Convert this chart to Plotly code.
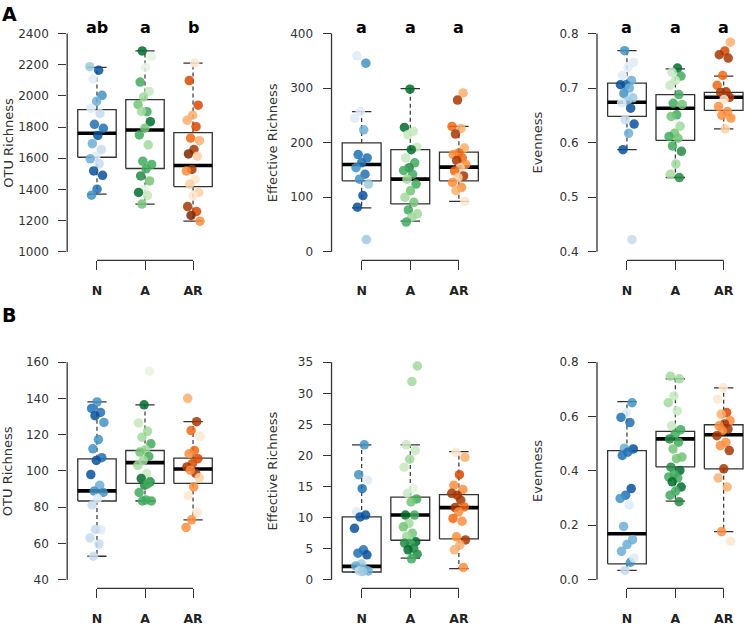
import plotly.graph_objects as go

# ---------------- data ----------------
groups = ["N", "A", "AR"]
y_titles = ["OTU Richness", "Effective Richness", "Evenness"]

# box stats per panel: [q1, median, q3, lower whisker, upper whisker] for N, A, AR
a1_stats = [[1606, 1760, 1912, 1370, 2183], [1534, 1781, 1976, 1306, 2288], [1418, 1553, 1764, 1196, 2210]]
a2_stats = [[130, 160, 199.4, 80.3, 256.8], [87.6, 133, 187, 56, 299], [130, 155, 182.5, 92.4, 229.6]]
a3_stats = [[0.648, 0.674, 0.709, 0.587, 0.7685], [0.604, 0.663, 0.688, 0.536, 0.735], [0.659, 0.683, 0.692, 0.625, 0.722]]
b1_stats = [[83.4, 89, 106.7, 52.9, 138.1], [93.1, 104.6, 111.3, 83.4, 136.5], [93.1, 101.1, 107.1, 73, 127.2]]
b2_stats = [[1.23, 2.13, 10.1, 1.2, 21.7], [6.34, 10.4, 13.3, 3.47, 21.7], [6.55, 11.6, 13.7, 1.76, 20.6]]
b3_stats = [[0.058, 0.169, 0.475, 0.034, 0.655], [0.415, 0.518, 0.546, 0.289, 0.739], [0.408, 0.5335, 0.570, 0.177, 0.706]]

# sample values per group, with a shade level (sample gradient index 0-8)
a1_N = [2187, 2164, 2109, 2003, 1965, 1919, 1887, 1817, 1792, 1746, 1693, 1655, 1613, 1596, 1564, 1518, 1490, 1401, 1363]
a1_N_s = [3, 7, 1, 5, 4, 1, 2, 6, 6, 7, 4, 2, 1, 4, 2, 7, 7, 6, 5]
a1_A = [2288, 2252, 2183, 2088, 2028, 1993, 1944, 1898, 1900, 1834, 1792, 1749, 1686, 1581, 1560, 1532, 1486, 1454, 1401, 1380, 1360, 1306]
a1_A_s = [7, 1, 1, 5, 2, 3, 4, 5, 3, 7, 4, 5, 3, 5, 5, 5, 6, 4, 1, 7, 2, 4]
a1_AR = [2210, 2098, 1940, 1876, 1844, 1802, 1729, 1712, 1655, 1627, 1613, 1528, 1518, 1464, 1433, 1380, 1359, 1290, 1258, 1233, 1196]
a1_AR_s = [1, 6, 6, 3, 3, 6, 5, 3, 7, 8, 2, 7, 4, 1, 2, 2, 1, 7, 6, 8, 4]

a2_N = [359, 345.6, 257, 244.7, 223.5, 178, 172, 163, 154, 142, 133, 124, 103, 81.6, 22.3]
a2_N_s = [1, 5, 1, 1, 4, 6, 6, 6, 5, 6, 5, 3, 7, 7, 3]
a2_A = [297.9, 227.8, 220.6, 214.5, 191.6, 187, 172, 163, 154, 149, 142, 133, 124, 111.7, 99.7, 90.6, 76.7, 69.4, 63.4, 54.4]
a2_A_s = [7, 7, 2, 2, 2, 7, 2, 5, 6, 5, 5, 3, 5, 4, 3, 4, 5, 3, 3, 5]
a2_AR = [291, 278, 229.6, 226, 215.7, 190, 181, 178, 172, 167, 160, 154, 148, 139, 136, 127, 118, 112, 92.4]
a2_AR_s = [3, 7, 5, 3, 7, 3, 5, 4, 5, 7, 4, 2, 5, 7, 2, 4, 4, 3, 1]

a3_N = [0.7685, 0.747, 0.738, 0.723, 0.714, 0.706, 0.706, 0.700, 0.690, 0.682, 0.676, 0.673, 0.663, 0.642, 0.634, 0.617, 0.587, 0.422]
a3_N_s = [5, 1, 1, 1, 4, 6, 7, 4, 5, 3, 3, 1, 7, 2, 7, 4, 7, 2]
a3_A = [0.7366, 0.729, 0.722, 0.714, 0.705, 0.688, 0.672, 0.670, 0.651, 0.648, 0.630, 0.617, 0.611, 0.608, 0.594, 0.584, 0.561, 0.542, 0.536]
a3_A_s = [7, 2, 5, 2, 2, 5, 5, 4, 5, 4, 3, 4, 5, 4, 5, 6, 3, 3, 6]
a3_AR = [0.784, 0.768, 0.761, 0.755, 0.723, 0.705, 0.693, 0.692, 0.683, 0.679, 0.666, 0.657, 0.650, 0.645, 0.625]
a3_AR_s = [3, 6, 7, 7, 5, 5, 7, 7, 7, 1, 4, 4, 4, 4, 2]

b1_N = [138.1, 134.5, 132.3, 130.5, 126.8, 117.3, 112.2, 107.3, 105.8, 98, 92.1, 88.9, 88.1, 84.8, 81.2, 67.5, 67.7, 63, 59.7, 52.9]
b1_N_s = [5, 6, 6, 7, 5, 5, 5, 6, 7, 7, 4, 5, 5, 1, 2, 1, 2, 2, 2, 2]
b1_A = [155.1, 136.5, 126.5, 121.9, 118.6, 115, 111.8, 110.4, 108, 105.8, 103.1, 98.6, 95.8, 94, 92.1, 88.1, 93, 83.4, 83.4, 84]
b1_A_s = [1, 7, 2, 3, 3, 5, 3, 4, 5, 3, 3, 2, 7, 6, 6, 5, 5, 5, 5, 5]
b1_AR = [140.1, 127.2, 122.3, 119.1, 111.3, 109.5, 106.8, 104, 102.2, 98.6, 100.4, 96.2, 91.2, 86.3, 77, 73, 68.8]
b1_AR_s = [3, 7, 5, 1, 5, 4, 6, 6, 7, 7, 4, 2, 4, 1, 1, 4, 4]

b2_N = [21.7, 16.9, 16, 14.65, 10.9, 10.4, 10.1, 8.26, 4.8, 4.26, 4, 2.5, 2.2, 1.6, 1.4, 1.4, 1.3]
b2_N_s = [5, 5, 1, 6, 1, 7, 7, 7, 6, 6, 7, 3, 4, 4, 2, 4, 3]
b2_A = [34.4, 31.9, 21.7, 20.8, 19.4, 18.1, 14.75, 13.9, 13, 12.5, 10.4, 10.4, 9.06, 8.5, 7.46, 7, 6.1, 5.86, 5.86, 5.06, 4.8, 4.1, 3.35]
b2_A_s = [3, 3, 2, 2, 3, 2, 1, 2, 5, 4, 7, 5, 3, 4, 4, 3, 7, 5, 6, 6, 7, 6, 5]
b2_AR = [20.5, 19.7, 16.9, 15.2, 14.5, 13.6, 13.9, 12.8, 11.6, 11.7, 10.9, 9.86, 9.4, 6.9, 6.4, 5.6, 4.8, 1.97]
b2_AR_s = [1, 3, 6, 4, 4, 7, 7, 7, 7, 5, 4, 5, 4, 4, 7, 3, 3, 4]

b3_N = [0.651, 0.615, 0.597, 0.578, 0.484, 0.481, 0.469, 0.457, 0.335, 0.311, 0.299, 0.275, 0.196, 0.147, 0.129, 0.104, 0.064, 0.034, 0.08]
b3_N_s = [5, 1, 6, 6, 4, 7, 6, 6, 7, 6, 5, 1, 4, 4, 4, 4, 5, 2, 1]
b3_A = [0.749, 0.739, 0.676, 0.651, 0.621, 0.566, 0.552, 0.536, 0.518, 0.506, 0.481, 0.451, 0.445, 0.414, 0.402, 0.387, 0.378, 0.374, 0.36, 0.341, 0.326, 0.311, 0.287]
b3_A_s = [3, 3, 2, 3, 2, 2, 5, 5, 6, 5, 4, 4, 4, 6, 7, 5, 5, 5, 7, 7, 5, 5, 6]
b3_AR = [0.706, 0.664, 0.615, 0.609, 0.585, 0.573, 0.566, 0.554, 0.548, 0.530, 0.505, 0.493, 0.475, 0.408, 0.374, 0.341, 0.177, 0.141]
b3_AR_s = [1, 1, 6, 3, 4, 7, 4, 7, 4, 7, 4, 4, 7, 7, 3, 3, 4, 1]

# significance letters
a_letters = [["ab", "a", "b"], ["a", "a", "a"], ["a", "a", "a"]]
b_letters = [["a", "b", "ab"], ["a", "b", "b"], ["a", "b", "b"]]

# y tick values / labels
a1_ticks = [1000, 1200, 1400, 1600, 1800, 2000, 2200, 2400]
a2_ticks = [0, 100, 200, 300, 400]
a3_ticks = [0.4, 0.5, 0.6, 0.7, 0.8]
a3_ticklabels = ["0.4", "0.5", "0.6", "0.7", "0.8"]
b1_ticks = [40, 60, 80, 100, 120, 140, 160]
b2_ticks = [0, 5, 10, 15, 20, 25, 30, 35]
b3_ticks = [0.0, 0.2, 0.4, 0.6, 0.8]
b3_ticklabels = ["0.0", "0.2", "0.4", "0.6", "0.8"]

# ---------------- styling ----------------
BLUES = ["#F7FBFF", "#DEEBF7", "#C6DBEF", "#9ECAE1", "#6BAED6", "#4292C6", "#2171B5", "#08519C", "#08306B"]
GREENS = ["#F7FCF5", "#E5F5E0", "#C7E9C0", "#A1D99B", "#74C476", "#41AB5D", "#238B45", "#006D2C", "#00441B"]
ORANGES = ["#FFF5EB", "#FEE6CE", "#FDD0A2", "#FDAE6B", "#FD8D3C", "#F16913", "#D94801", "#A63603", "#7F2704"]
PALS = [BLUES, GREENS, ORANGES]
FONT = "DejaVu Sans"
AX = "#333333"

panels = [
    dict(stats=a1_stats, vals=[(a1_N, a1_N_s), (a1_A, a1_A_s), (a1_AR, a1_AR_s)], ticks=a1_ticks, tl=None,
         rng=[944, 2456], letters=a_letters[0], ly=2438, title=y_titles[0]),
    dict(stats=a2_stats, vals=[(a2_N, a2_N_s), (a2_A, a2_A_s), (a2_AR, a2_AR_s)], ticks=a2_ticks, tl=None,
         rng=[-16, 416], letters=a_letters[1], ly=411, title=y_titles[1]),
    dict(stats=a3_stats, vals=[(a3_N, a3_N_s), (a3_A, a3_A_s), (a3_AR, a3_AR_s)], ticks=a3_ticks, tl=a3_ticklabels,
         rng=[0.384, 0.816], letters=a_letters[2], ly=0.811, title=y_titles[2]),
    dict(stats=b1_stats, vals=[(b1_N, b1_N_s), (b1_A, b1_A_s), (b1_AR, b1_AR_s)], ticks=b1_ticks, tl=None,
         rng=[35.2, 164.8], letters=b_letters[0], ly=166, title=y_titles[0]),
    dict(stats=b2_stats, vals=[(b2_N, b2_N_s), (b2_A, b2_A_s), (b2_AR, b2_AR_s)], ticks=b2_ticks, tl=None,
         rng=[-1.4, 36.4], letters=b_letters[1], ly=39.8, title=y_titles[1]),
    dict(stats=b3_stats, vals=[(b3_N, b3_N_s), (b3_A, b3_A_s), (b3_AR, b3_AR_s)], ticks=b3_ticks, tl=b3_ticklabels,
         rng=[-0.032, 0.832], letters=b_letters[2], ly=0.879, title=y_titles[2]),
]

x_domains = [[0.0903, 0.2995], [0.4456, 0.6573], [0.8024, 1.0]]
x_ranges = [[0.38, 3.62], [0.38, 3.62], [0.38, 3.42]]
y_domains = [[0.5799, 0.9601], [0.0511, 0.4297]]

fig = go.Figure()
shapes = []
annotations = []
layout = {}
HW = 0.4   # half box width
CW = 0.2   # half cap width

for p, pan in enumerate(panels):
    col = p % 3
    row = p // 3
    sfx = "" if p == 0 else str(p + 1)
    xa, ya = "x" + sfx, "y" + sfx
    for g in range(3):
        c = g + 1
        q1, med, q3, lo, hi = pan["stats"][g]
        # whiskers (dashed)
        fig.add_trace(go.Scatter(x=[c, c, None, c, c], y=[q3, hi, None, q1, lo], mode="lines",
                                 line=dict(color=AX, width=1.2, dash="4px,3px"), xaxis=xa, yaxis=ya,
                                 hoverinfo="skip", showlegend=False))
        # caps
        fig.add_trace(go.Scatter(x=[c - CW, c + CW, None, c - CW, c + CW], y=[hi, hi, None, lo, lo], mode="lines",
                                 line=dict(color=AX, width=1.3), xaxis=xa, yaxis=ya,
                                 hoverinfo="skip", showlegend=False))
        # box
        fig.add_trace(go.Scatter(x=[c - HW, c + HW, c + HW, c - HW, c - HW], y=[q1, q1, q3, q3, q1], mode="lines",
                                 line=dict(color=AX, width=1.3), fill="toself", fillcolor="rgba(255,255,255,0)",
                                 xaxis=xa, yaxis=ya, hoverinfo="skip", showlegend=False))
        # median
        fig.add_trace(go.Scatter(x=[c - HW, c + HW], y=[med, med], mode="lines",
                                 line=dict(color="black", width=3.6), xaxis=xa, yaxis=ya,
                                 hoverinfo="skip", showlegend=False))
    for g in range(3):
        c = g + 1
        vals, shades = pan["vals"][g]
        n = len(vals)
        xs = [c + 0.15 * ((((i * 0.6180339887) + 0.31 * g + 0.17 * p) % 1.0) * 2 - 1) for i in range(n)]
        cols = [PALS[g][s] for s in shades]
        fig.add_trace(go.Scatter(x=xs, y=vals, mode="markers",
                                 marker=dict(color=cols, size=9.5, opacity=0.85, line=dict(width=0)),
                                 cliponaxis=False, xaxis=xa, yaxis=ya, showlegend=False,
                                 name=groups[g]))
    # axes
    layout["xaxis" + sfx] = dict(domain=x_domains[col], range=x_ranges[col], anchor=ya,
                                 tickvals=[1, 2, 3], ticktext=["<b>%s</b>" % s for s in groups],
                                 ticks="outside", ticklen=9, tickwidth=1.3, tickcolor=AX,
                                 tickfont=dict(family=FONT, size=12.5, color="#222"),
                                 ticklabelstandoff=10,
                                 showline=False, showgrid=False, zeroline=False, fixedrange=True)
    ydict = dict(domain=y_domains[row], range=pan["rng"], anchor=xa,
                 tickvals=pan["ticks"], ticks="outside", ticklen=8, tickwidth=1.3, tickcolor=AX,
                 tickfont=dict(family=FONT, size=12, color="#333"), ticklabelstandoff=7,
                 showline=False, showgrid=False, zeroline=False, fixedrange=True)
    if pan["tl"] is not None:
        ydict["ticktext"] = pan["tl"]
    layout["yaxis" + sfx] = ydict
    # R-style axis lines
    shapes.append(dict(type="line", xref=xa + " domain", yref=ya, x0=0, x1=0,
                       y0=pan["ticks"][0], y1=pan["ticks"][-1], line=dict(color=AX, width=1.3)))
    shapes.append(dict(type="line", xref=xa, yref=ya + " domain", x0=1, x1=3, y0=0, y1=0,
                       line=dict(color=AX, width=1.3)))
    # letters
    for g in range(3):
        annotations.append(dict(x=g + 1, y=pan["ly"], xref=xa, yref=ya, text="<b>%s</b>" % pan["letters"][g],
                                showarrow=False, font=dict(family=FONT, size=16, color="black"),
                                xanchor="center", yanchor="middle"))
    # y title
    annotations.append(dict(x=0, y=0.5, xref=xa + " domain", yref=ya + " domain", text=pan["title"],
                            textangle=-90, showarrow=False, xshift=-59, xanchor="center", yanchor="middle",
                            font=dict(family=FONT, size=13, color="#333")))

# panel labels
annotations.append(dict(x=0, y=1 - 1 / 626, xref="paper", yref="paper", text="<b>A</b>", showarrow=False,
                        xanchor="left", yanchor="top", font=dict(family=FONT, size=19, color="black")))
annotations.append(dict(x=0, y=1 - 305 / 626, xref="paper", yref="paper", text="<b>B</b>", showarrow=False,
                        xanchor="left", yanchor="top", font=dict(family=FONT, size=19, color="black")))

fig.update_layout(width=744, height=626, margin=dict(l=0, r=0, t=0, b=0),
                  paper_bgcolor="white", plot_bgcolor="white",
                  shapes=shapes, annotations=annotations, **layout)

fig.write_html("out.html", config={"displayModeBar": False},
               post_script="document.body.style.margin='0';document.body.style.overflow='hidden';")
